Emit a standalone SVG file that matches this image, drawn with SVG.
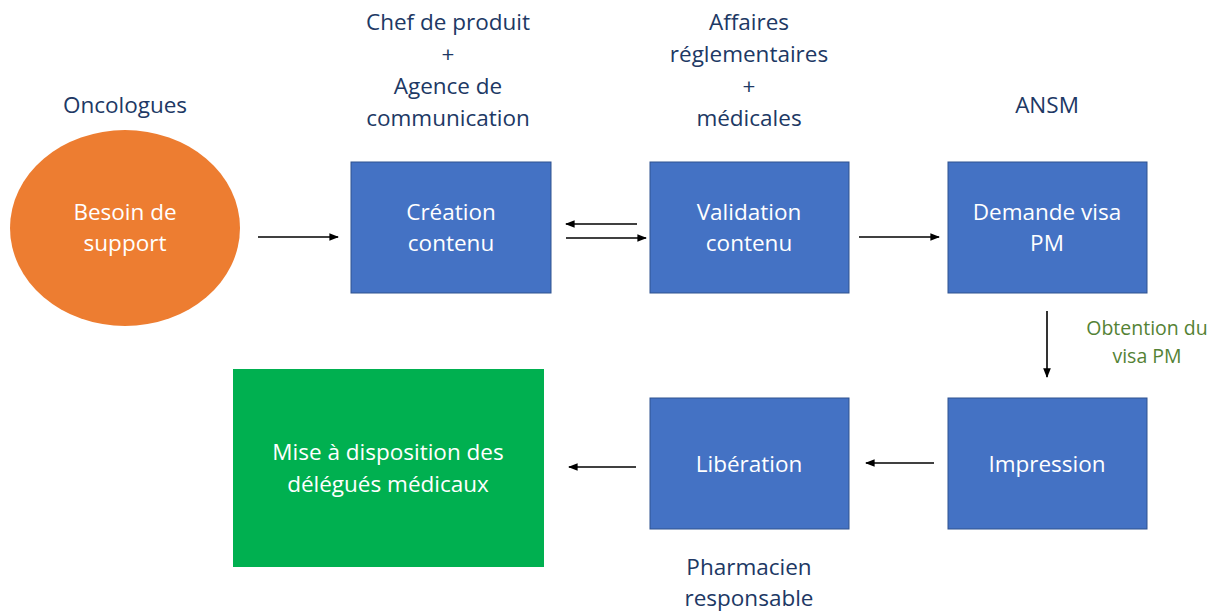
<svg xmlns="http://www.w3.org/2000/svg" width="1221" height="611" viewBox="0 0 1221 611">
<defs>
<style>
.lbl{font-family:"Open Sans",Lato,"Liberation Sans",sans-serif;font-size:22.5px;fill:#203864;text-anchor:middle}
.in{font-family:"Open Sans",Lato,"Liberation Sans",sans-serif;font-size:22.5px;fill:#ffffff;text-anchor:middle}
.grn{font-family:"Open Sans",Lato,"Liberation Sans",sans-serif;font-size:19.5px;fill:#548235;text-anchor:middle}
.box{fill:#4472C4;stroke:#2F528F;stroke-width:1}
.ln{stroke:#000;stroke-width:1.6;fill:none;marker-end:url(#ah)}
</style>
<marker id="ah" viewBox="0 0 10 10" refX="9" refY="5" markerWidth="6" markerHeight="6" orient="auto" markerUnits="strokeWidth">
<path d="M0,1 L10,5 L0,9 z" fill="#000"/>
</marker>
</defs>
<rect width="1221" height="611" fill="#fff"/>
<g id="besoin">
<ellipse cx="125" cy="228" rx="115" ry="98" fill="#ED7D31"/>
<text class="in" x="125" y="220">Besoin de</text>
<text class="in" x="125" y="251">support</text>
<text class="lbl" x="125" y="113">Oncologues</text>
</g>
<g id="creation">
<rect class="box" x="351" y="162" width="200" height="131"/>
<text class="in" x="451" y="220">Création</text>
<text class="in" x="451" y="251">contenu</text>
<text class="lbl" x="448" y="30">Chef de produit</text>
<text class="lbl" x="448" y="62">+</text>
<text class="lbl" x="448" y="94">Agence de</text>
<text class="lbl" x="448" y="126">communication</text>
</g>
<g id="validation">
<rect class="box" x="650" y="162" width="199" height="131"/>
<text class="in" x="749" y="220">Validation</text>
<text class="in" x="749" y="251">contenu</text>
<text class="lbl" x="749" y="30">Affaires</text>
<text class="lbl" x="749" y="62">réglementaires</text>
<text class="lbl" x="749" y="94">+</text>
<text class="lbl" x="749" y="126">médicales</text>
</g>
<g id="demande">
<rect class="box" x="948" y="162" width="199" height="131"/>
<text class="in" x="1047" y="220">Demande visa</text>
<text class="in" x="1047" y="251">PM</text>
<text class="lbl" x="1047" y="113">ANSM</text>
</g>
<g id="impression">
<rect class="box" x="948" y="398" width="199" height="131"/>
<text class="in" x="1047" y="472">Impression</text>
</g>
<g id="liberation">
<rect class="box" x="650" y="398" width="199" height="131"/>
<text class="in" x="749" y="472">Libération</text>
<text class="lbl" x="749" y="575">Pharmacien</text>
<text class="lbl" x="749" y="606">responsable</text>
</g>
<g id="mise">
<rect x="233" y="369" width="311" height="198" fill="#00B050"/>
<text class="in" x="388" y="460">Mise à disposition des</text>
<text class="in" x="388" y="492">délégués médicaux</text>
</g>
<g id="obtention">
<text class="grn" x="1147" y="335">Obtention du</text>
<text class="grn" x="1147" y="363">visa PM</text>
</g>
<g id="connectors">
<line class="ln" x1="258" y1="237" x2="338" y2="237"/>
<line class="ln" x1="637" y1="224" x2="566" y2="224"/>
<line class="ln" x1="566" y1="238" x2="646" y2="238"/>
<line class="ln" x1="859" y1="237" x2="939" y2="237"/>
<line class="ln" x1="1047" y1="311" x2="1047" y2="377"/>
<line class="ln" x1="934" y1="463" x2="866" y2="463"/>
<line class="ln" x1="636" y1="467" x2="569" y2="467"/>
</g>
</svg>
